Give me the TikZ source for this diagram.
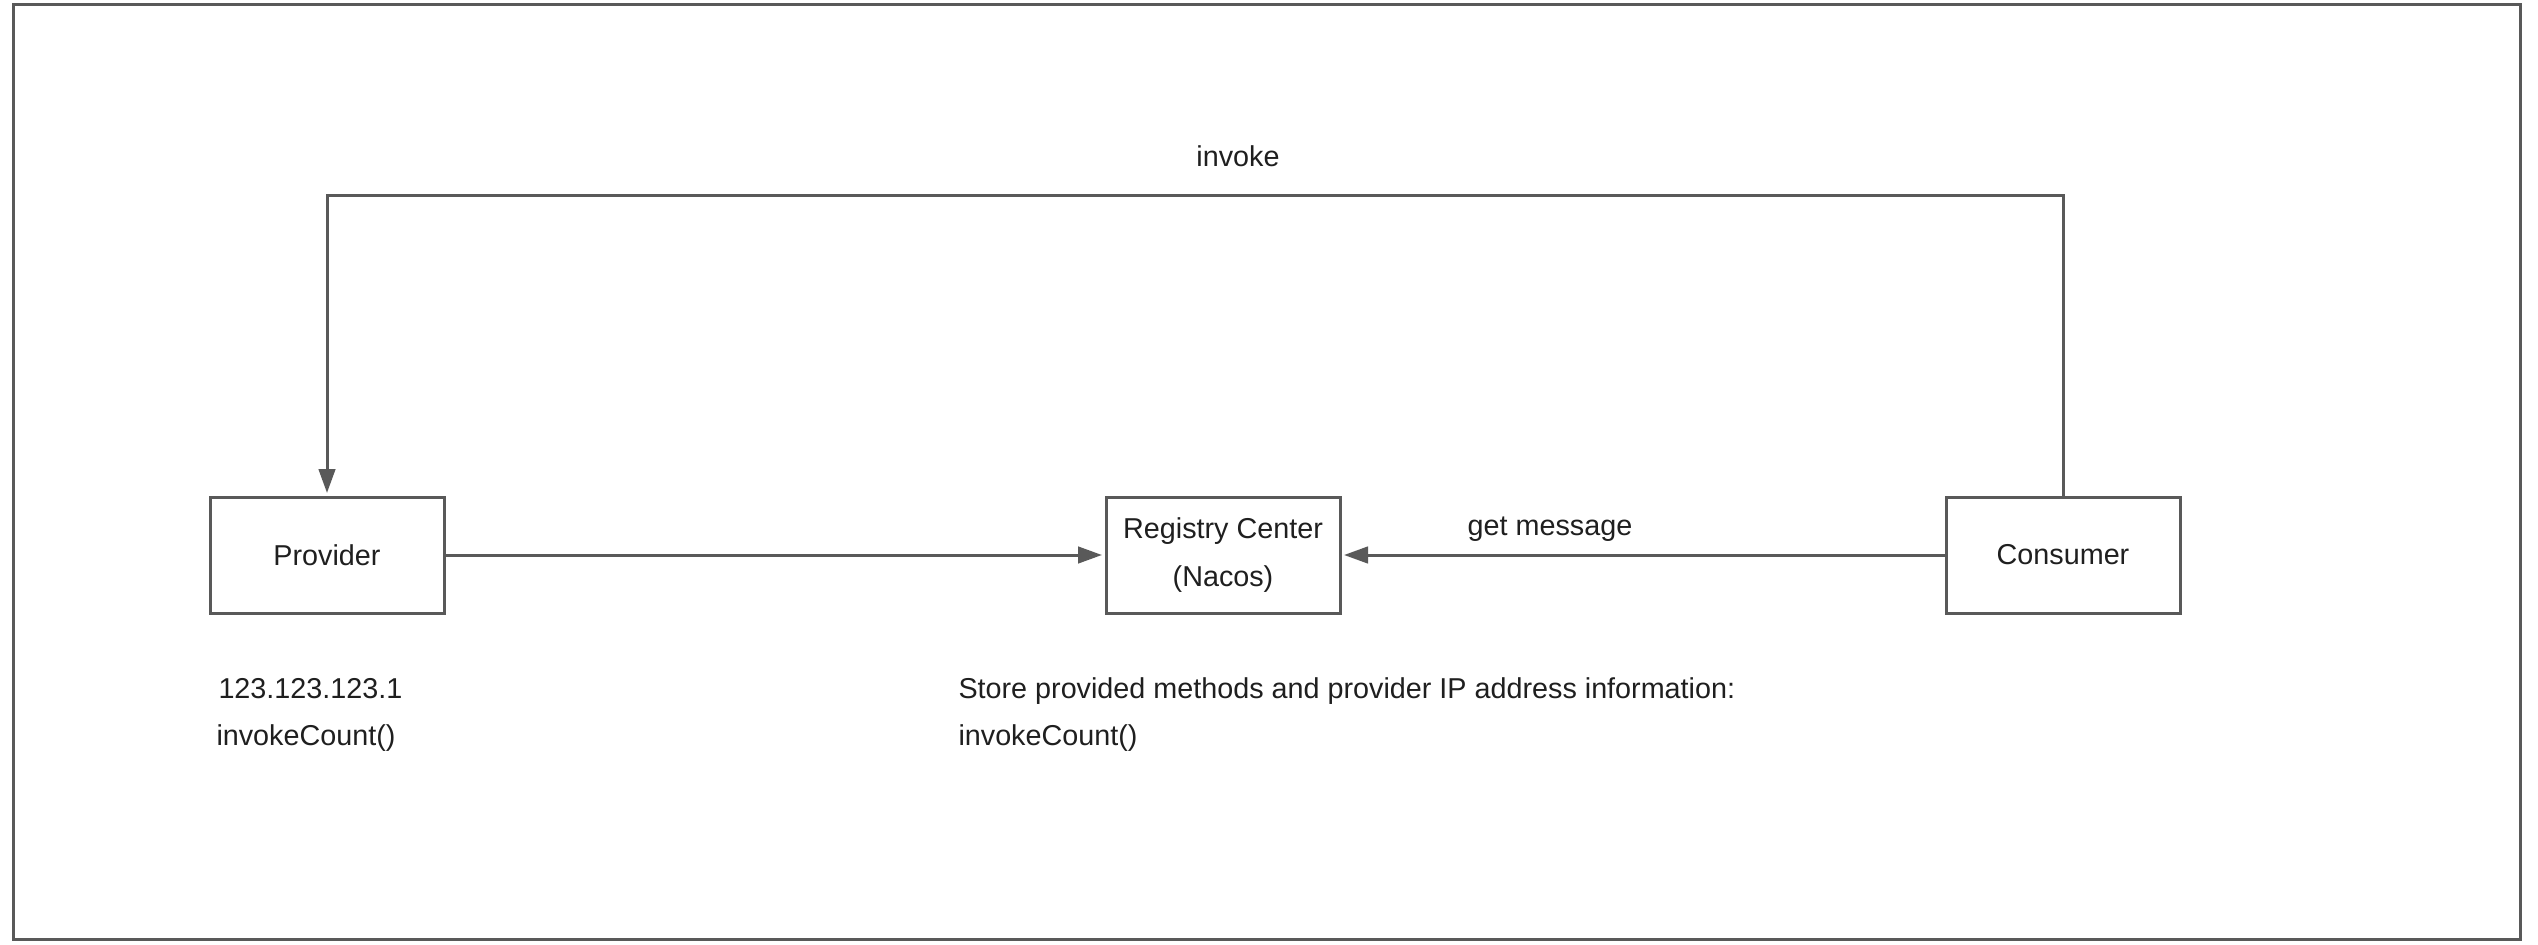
\documentclass[tikz,border=0pt]{standalone}
\usepackage{fontspec}
\setmainfont{Liberation Sans}
\usetikzlibrary{arrows.meta}
\definecolor{linec}{HTML}{595959}
\definecolor{txtc}{HTML}{1F1F1F}
\tikzset{
  box/.style={draw=linec, line width=1.2pt, minimum width=93.6pt, minimum height=46.4pt, inner sep=0pt, align=center, text=txtc, font=\fontsize{11.5}{19.2}\selectfont},
  lbl/.style={text=txtc, inner sep=0pt, font=\fontsize{11.5}{19.2}\selectfont},
  conn/.style={draw=linec, line width=1.2pt, -{Triangle[length=9.6pt,width=6.6pt]}, shorten >=1pt},
  frame/.style={draw=linec, line width=1.2pt}
}
\begin{document}
\begin{tikzpicture}[x=0.4pt, y=-0.4pt]
\useasboundingbox (0,0) rectangle (2538,945);
\draw[frame] (13,5) rectangle (2520,939);
\node[box] (prov) at (327,555) {Provider};
\node[box] (reg) at (1223,555) {Registry Center\\(Nacos)};
\node[box] (cons) at (2063,555) {Consumer};
\coordinate (inv) at (1236,196);
\draw[conn] (prov) -- (reg);
\draw[conn] (cons) -- (reg);
\draw[conn] (cons.north) -- (cons.north |- inv) -- (prov.north |- inv) -- (prov.north);
\node[lbl, anchor=base] (invl) at (1238,167) {invoke};
\node[lbl, anchor=base] (getl) at (1550,535) {get message};
\node[lbl, anchor=base west] (ip) at (218,698) {123.123.123.1};
\node[lbl, anchor=base west] (ipm) at (216,745) {invokeCount()};
\node[lbl, anchor=base west] (store) at (958,698) {Store provided methods and provider IP address information:};
\node[lbl, anchor=base west] (storem) at (958,745) {invokeCount()};
\end{tikzpicture}
\end{document}
